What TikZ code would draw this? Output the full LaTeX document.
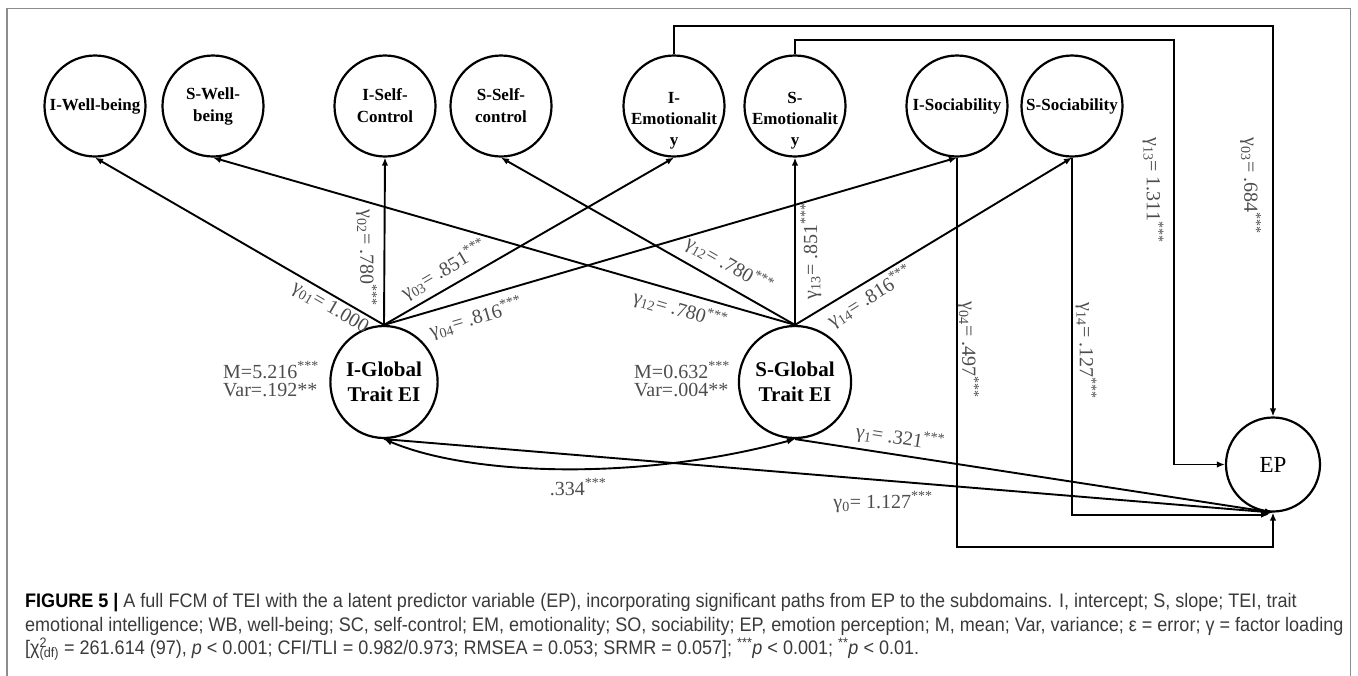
\documentclass[tikz,border=0pt]{standalone}
\usepackage{fontspec}
\setmainfont{Liberation Serif}
\newfontfamily\capfont[FakeStretch=0.92]{Liberation Sans}
\usetikzlibrary{arrows.meta,shapes.geometric,positioning}

\definecolor{lblgray}{HTML}{4D4D4D}
\definecolor{capgray}{HTML}{3A3A3A}
\definecolor{framegray}{HTML}{8C8C8C}
\newcommand\gm[1]{γ\textsubscript{#1}}
\newcommand\sig{\textsuperscript{***}}

\begin{document}
\begin{tikzpicture}[x=1pt,y=-1pt,
    sub/.style={circle,draw,line width=2.2pt,minimum size=101pt,inner sep=0pt,
        font=\fontsize{17}{22}\selectfont\bfseries,align=center},
    subtxt/.style={font=\fontsize{17}{21}\selectfont\bfseries,align=center,inner sep=0pt},
    glob/.style={ellipse,draw,line width=2.2pt,minimum width=104pt,minimum height=112pt,
        inner sep=0pt,font=\fontsize{21}{25}\selectfont\bfseries,align=center},
    load/.style={line width=1.9pt,-{Latex[length=8pt,width=6.5pt]}},
    coef/.style={text=lblgray,font=\fontsize{20}{18}\selectfont,inner sep=1pt},
]
\useasboundingbox (0,0) rectangle (1358,675);
\draw[framegray,line width=1.5pt] (7,700) -- (7,8.5) -- (1350.7,8.5) -- (1350.7,700);

% subdomains
\node[sub] (IWB) at (95,106) {I-Well-being};
\node[sub] (SWB) at (213,106) {S-Well-\\being};
\node[sub] (ISC) at (385,106) {I-Self-\\Control};
\node[sub] (SSC) at (501,106) {S-Self-\\control};
\node[sub] (IEM) at (674,106) {};
\node[subtxt] (IEMt) at (674,121) {I-\\Emotionalit\\y};
\node[sub] (SEM) at (795,106) {};
\node[subtxt] (SEMt) at (795,121) {S-\\Emotionalit\\y};
\node[sub] (ISO) at (957,106) {I-Sociability};
\node[sub] (SSO) at (1072,106) {S-Sociability};

% global factors and predictor
\node[glob] (IG) at (384,382) {I-Global\\Trait EI};
\node[glob] (SG) at (795,382) {S-Global\\Trait EI};
\node[circle,draw,line width=2.2pt,minimum size=94pt,inner sep=0pt,
    font=\fontsize{23}{23}\selectfont] (EP) at (1273,464.5) {EP};

\node[coef,anchor=west,align=left] (IGstat) at (222,379) {M=5.216\sig\\Var=.192**};
\node[coef,anchor=west,align=left] (SGstat) at (633,379) {M=0.632\sig\\Var=.004**};

% loadings
\draw[load] (IG.north) -- (IWB.south);
\draw[load] (IG.north) -- (ISC.south);
\draw[load] (IG.north) -- (IEM.south);
\draw[load] (IG.north) -- (ISO.south);
\draw[load] (SG.north) -- (SWB.south);
\draw[load] (SG.north) -- (SSC.south);
\draw[load] (SG.north) -- (SEM.south);
\draw[load] (SG.north) -- (SSO.south);

\node[coef,rotate=-30.3] (g01) at (330,308) {\gm{01}= 1.000};
\node[coef,rotate=-90] (g02) at (366.5,258) {\gm{02}= .780\sig};
\node[coef,rotate=30.5] (g03) at (444,270) {\gm{03}= .851\sig};
\node[coef,rotate=16.5] (g04) at (476,318) {\gm{04}= .816\sig};
\node[coef,rotate=-30] (g12a) at (729,265) {\gm{12}= .780\sig};
\node[coef,rotate=-16.3] (g12b) at (680,310) {\gm{12}= .780\sig};
\node[coef,rotate=90] (g13) at (811,251) {\gm{13}= .851\sig};
\node[coef,rotate=31.8] (g14) at (870,297) {\gm{14}= .816\sig};

% paths to EP
\draw[load] (IEM.north) -- ++(0,-28.5) -| (EP.north);
\draw[load] (SEM.north) -- ++(0,-14) -| ([xshift=-51pt]EP.west) -- (EP.west);
\draw[load] (ISO.south) |- ([yshift=-34pt]EP.south) -- (EP.south);
\draw[load] (SSO.south) |- ([xshift=-4pt,yshift=-2pt]EP.south);
\draw[load] (IG.south) -- (EP.south);
\draw[load] (SG.south) -- (EP.south);
\draw[line width=1.9pt,{Latex[length=8pt,width=6.5pt]}-{Latex[length=8pt,width=6.5pt]}]
    (IG.south) .. controls +(87,37) and +(-155,42) .. (SG.south);

\node[coef,rotate=-90] (g13p) at (1153,190) {\gm{13}= 1.311\sig};
\node[coef,rotate=-90] (g03p) at (1250.5,186) {\gm{03}= .684\sig};
\node[coef,rotate=-90] (g04p) at (968.5,350) {\gm{04}= .497\sig};
\node[coef,rotate=-90] (g14p) at (1086,351) {\gm{14}= .127\sig};
\node[coef,rotate=-8.8] (g1) at (900,438) {\gm{1}= .321\sig};
\node[coef] (g0) at (883,502) {\gm{0}= 1.127\sig};
\node[coef] (cov) at (578,487) {.334\sig};

% caption
\node[anchor=west,align=left,inner sep=0pt,text=capgray,
    font=\capfont\fontsize{19.6}{23.5}\selectfont] (caption) at (25,627)
    {\textbf{\color{black}FIGURE 5 |} A full FCM of TEI with the a latent predictor variable (EP), incorporating significant paths from EP to the subdomains. I, intercept; S, slope; TEI, trait\\
    emotional intelligence; WB, well-being; SC, self-control; EM, emotionality; SO, sociability; EP, emotion perception; M, mean; Var, variance; ε = error; γ = factor loading\\
    {[}χ\rlap{\textsuperscript{2}}\textsubscript{(df)} = 261.614 (97), \textit{p} < 0.001; CFI/TLI = 0.982/0.973; RMSEA = 0.053; SRMR = 0.057]; \textsuperscript{***}\textit{p} < 0.001; \textsuperscript{**}\textit{p} < 0.01.};
\end{tikzpicture}
\end{document}
